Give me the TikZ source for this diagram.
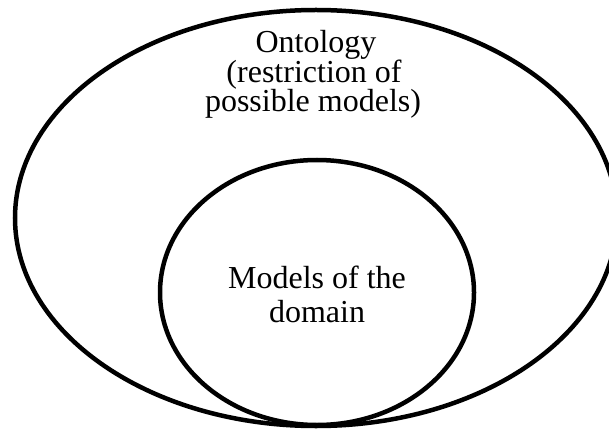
\documentclass[tikz,border=0pt]{standalone}
\usepackage{fontspec}
\setmainfont{Liberation Serif}
\begin{document}
\begin{tikzpicture}[x=1pt,y=-1pt,
  setline/.style={draw=black,line width=4.5pt},
  label/.style={inner sep=0pt,anchor=base,font=\fontsize{32}{32}\selectfont}]
\useasboundingbox (0,0) rectangle (609,430);
\clip (0,0) rectangle (609,430);
% outer set: the ontology
\draw[setline] (316,218) ellipse [x radius=301,y radius=208];
% inner set: models of the domain
\draw[setline] (317,292.5) ellipse [x radius=157,y radius=132.5];
% labels
\node[label] (ont1) at (316,53) {Ontology};
\node[label] (ont2) at (314,83) {(restriction of};
\node[label] (ont3) at (313,112) {possible models)};
\node[label] (dom1) at (317,288) {Models of the};
\node[label] (dom2) at (317,322) {domain};
\end{tikzpicture}
\end{document}
